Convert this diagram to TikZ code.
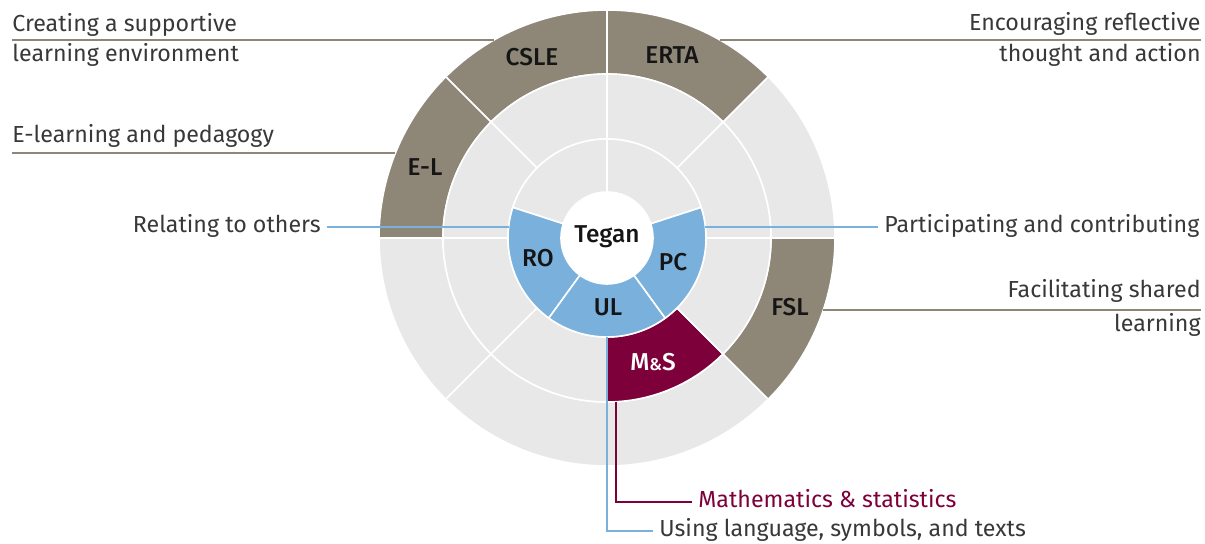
\documentclass[tikz,border=0pt]{standalone}
\usepackage{fontspec}
\setmainfont{Fira Sans}[BoldFont={Fira Sans Medium}]
\definecolor{taupe}{HTML}{8E8778}
\definecolor{paleg}{HTML}{E8E8E8}
\definecolor{skyb}{HTML}{7AB0DC}
\definecolor{wine}{HTML}{7E003A}
\definecolor{txtg}{HTML}{383838}
\definecolor{segtxt}{HTML}{151515}

% colour, inner radius, outer radius, start angle, end angle
\newcommand{\ringpart}[5]{\filldraw[fill=#1, draw=white, line width=0.8pt] (#4:#2) arc[start angle=#4, end angle=#5, radius=#2] -- (#5:#3) arc[start angle=#5, end angle=#4, radius=#3] -- cycle;}

\begin{document}
\begin{tikzpicture}[x=0.5pt, y=0.5pt,
  lbl/.style={inner sep=0, inner xsep=3pt, text height=8pt, text depth=2pt, text=txtg, font=\fontsize{11.6}{13}\selectfont},
  seg/.style={inner sep=0, text=segtxt, font=\fontsize{12.2}{13}\selectfont\bfseries},
  tanline/.style={draw=taupe, line width=1pt},
  blueline/.style={draw=skyb, line width=0.75pt},
  wineline/.style={draw=wine, line width=0.75pt}]
\useasboundingbox (-607,-306) rectangle (598,238);

% outer, middle and inner ring
\foreach \a/\b/\c in {0/45/paleg, 45/90/taupe, 90/135/taupe, 135/180/taupe, 180/225/paleg, 225/315/paleg, 315/360/taupe}
  \ringpart{\c}{164}{228}{\a}{\b};
\foreach \a/\b/\c in {0/45/paleg, 45/90/paleg, 90/135/paleg, 135/180/paleg, 180/225/paleg, 225/270/paleg, 270/315/wine, 315/360/paleg}
  \ringpart{\c}{99}{164}{\a}{\b};
\foreach \a/\b/\c in {18/90/paleg, 90/162/paleg, 162/234/skyb, 234/306/skyb, 306/378/skyb}
  \ringpart{\c}{46}{99}{\a}{\b};

\node[seg] (tegan) at (0,1) {Tegan};
\node[seg] (ro) at (-69,-20) {RO};
\node[seg] (ul) at (1,-69) {UL};
\node[seg] (pc) at (66,-24) {PC};
\node[seg, text=white] (ms) at (46,-124) {M{\fontsize{8.5}{9}\selectfont\&}S};
\node[seg] (csle) at (-75,181) {CSLE};
\node[seg] (erta) at (65,183) {ERTA};
\node[seg] (el) at (-182,71) {E-L};
\node[seg] (fsl) at (183,-69) {FSL};

\coordinate (csle-a) at (-595,198);
\coordinate (csle-b) at (-113.05,198);
\coordinate (el-a) at (-595,85);
\coordinate (el-b) at (-211.56,85);
\coordinate (erta-a) at (113.05,198);
\coordinate (erta-b) at (594,198);
\coordinate (fsl-a) at (216.33,-72);
\coordinate (fsl-b) at (594,-72);
\coordinate (ro-edge) at (-98.39,11);
\coordinate (pc-edge) at (98.39,11);
\coordinate (ul-edge) at (0,-99);
\coordinate (ms-edge) at (9,-163.75);

\node[lbl, anchor=base west] (csle-t1) at (-601,206) {Creating a supportive};
\node[lbl, anchor=base west] (csle-t2) at (-601,176) {learning environment};
\node[lbl, anchor=base west] (el-t) at (-601,95) {E-learning and pedagogy};
\node[lbl, anchor=base east] (erta-t1) at (600,207) {Encouraging reflective};
\node[lbl, anchor=base east] (erta-t2) at (600,176) {thought and action};
\node[lbl, anchor=base east] (fsl-t1) at (600,-60) {Facilitating shared};
\node[lbl, anchor=base east] (fsl-t2) at (600,-94) {learning};
\node[lbl, anchor=east] (relating) at (-280,11) {Relating to others};
\node[lbl, anchor=west] (particip) at (271,11) {Participating and contributing};
\node[lbl, anchor=west, text=wine] (mathstat) at (85,-264) {Mathematics \& statistics};
\node[lbl, anchor=west] (usinglang) at (46,-293) {Using language, symbols, and texts};

\draw[tanline] (csle-a) -- (csle-b);
\draw[tanline] (el-a) -- (el-b);
\draw[tanline] (erta-a) -- (erta-b);
\draw[tanline] (fsl-a) -- (fsl-b);
\draw[blueline] (relating) -- (ro-edge);
\draw[blueline] (pc-edge) -- (particip);
\draw[blueline] (ul-edge) |- (usinglang);
\draw[wineline] (ms-edge) |- (mathstat);
\end{tikzpicture}
\end{document}
